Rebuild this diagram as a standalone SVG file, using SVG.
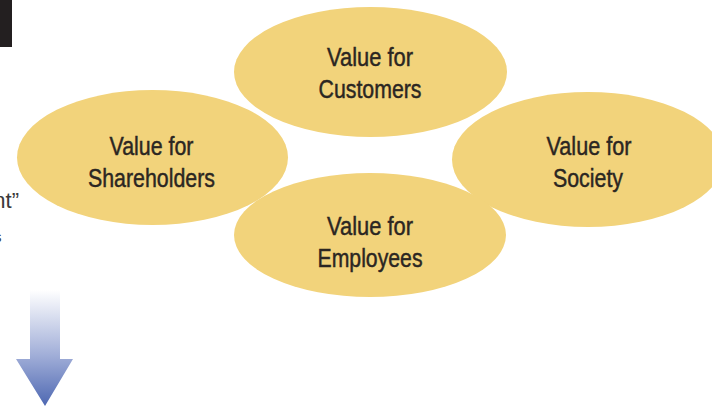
<svg xmlns="http://www.w3.org/2000/svg" width="712" height="407" viewBox="0 0 712 407">
  <style>
    .bubble { fill: #f2d37b; }
    .label { font-family: "Liberation Sans", Arial, sans-serif; font-size: 26px; fill: #2b2622; stroke: #2b2622; stroke-width: 0.45px; text-anchor: middle; }
    .side { font-family: "Liberation Sans", Arial, sans-serif; fill: #3a3a3a; text-anchor: end; }
  </style>
  <defs>
    <linearGradient id="arrowFade" gradientUnits="userSpaceOnUse" x1="0" y1="290" x2="0" y2="406">
      <stop offset="0" stop-color="#ffffff"/>
      <stop offset="0.55" stop-color="#a3b0d9"/>
      <stop offset="1" stop-color="#4e68b2"/>
    </linearGradient>
  </defs>

  <!-- dark tab at the top-left edge -->
  <rect x="0" y="0" width="12" height="47" fill="#231f20"/>

  <!-- text running in from the left margin -->
  <text class="side" x="19" y="208" font-size="22">nt”</text>
  <text class="side" x="1.5" y="242" font-size="15">s</text>

  <!-- fading down arrow -->
  <path d="M30 290 H60 V359 H73 L45 406 L16 359 H30 Z" fill="url(#arrowFade)"/>

  <g id="customers">
    <ellipse class="bubble" cx="370.5" cy="72" rx="136.5" ry="65"/>
    <text class="label" x="370" y="66" textLength="86" lengthAdjust="spacingAndGlyphs">Value for</text>
    <text class="label" x="370" y="98" textLength="103" lengthAdjust="spacingAndGlyphs">Customers</text>
  </g>

  <g id="shareholders">
    <ellipse class="bubble" cx="152.5" cy="157.5" rx="135.5" ry="67.5"/>
    <text class="label" x="151.5" y="155" textLength="84" lengthAdjust="spacingAndGlyphs">Value for</text>
    <text class="label" x="151.5" y="187" textLength="127" lengthAdjust="spacingAndGlyphs">Shareholders</text>
  </g>

  <g id="society">
    <ellipse class="bubble" cx="588" cy="159.5" rx="136" ry="67.5"/>
    <text class="label" x="589" y="155" textLength="85" lengthAdjust="spacingAndGlyphs">Value for</text>
    <text class="label" x="588" y="187" textLength="70" lengthAdjust="spacingAndGlyphs">Society</text>
  </g>

  <g id="employees">
    <ellipse class="bubble" cx="370" cy="235" rx="136" ry="62"/>
    <text class="label" x="370" y="235" textLength="86" lengthAdjust="spacingAndGlyphs">Value for</text>
    <text class="label" x="370" y="267" textLength="105" lengthAdjust="spacingAndGlyphs">Employees</text>
  </g>

  <g id="connectors"/>
</svg>
